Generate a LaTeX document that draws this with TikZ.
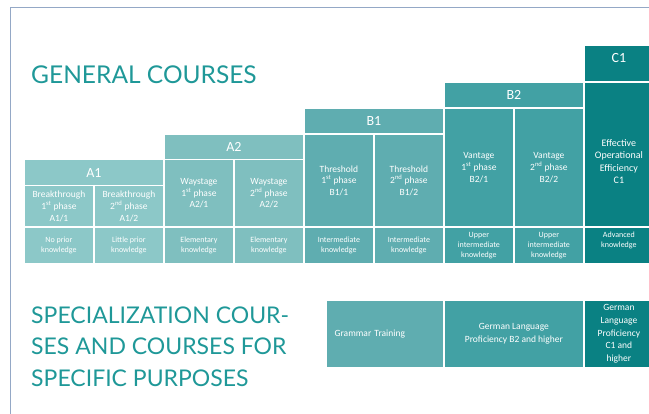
\documentclass[tikz,border=0pt]{standalone}
\usepackage{fontspec}
\setmainfont{Carlito}
\newfontfamily\titlefont{Lato}
\definecolor{colAa}{HTML}{8CC8C8}
\definecolor{colAb}{HTML}{7FBFBF}
\definecolor{colBa}{HTML}{5FADB0}
\definecolor{colBb}{HTML}{42A1A4}
\definecolor{colC}{HTML}{0A8183}
\definecolor{titleteal}{HTML}{1F9898}
\definecolor{framecol}{HTML}{94A8C6}

\begin{document}
\begin{tikzpicture}[x=1pt,y=-1pt,box/.style={draw=white, line width=1.2pt, text=white, align=center, anchor=north west, inner sep=0pt, font=\fontsize{9.5}{11.6}\selectfont},hdr/.style={box, minimum height=26, font=\fontsize{14}{16}\selectfont},knw/.style={box, minimum width=70, minimum height=36.5, font=\fontsize{8}{10.2}\selectfont},title/.style={text=titleteal, inner sep=0pt, align=left, font=\titlefont\fontsize{24.5}{31.7}\selectfont}]
\useasboundingbox (0,0) rectangle (649,414);
\draw[framecol, line width=0.9pt] (10.5,414) -- (10.5,7) -- (649,7);
\node[title, anchor=base west] (gen) at (31,83.3) {GENERAL COURSES};
% A1
\node[hdr, fill=colAa, minimum width=140] (a1) at (23.3,159) {A1};
\node[box, fill=colAa, minimum width=70, minimum height=41.5] (a11) at (23.3,185) {Breakthrough\\1\textsuperscript{st} phase\\A1/1};
\node[box, fill=colAa, minimum width=70, minimum height=41.5] (a12) at (93.3,185) {Breakthrough\\2\textsuperscript{nd} phase\\A1/2};
\node[knw, fill=colAa] (a11k) at (23.3,226.5) {No prior\\knowledge};
\node[knw, fill=colAa] (a12k) at (93.3,226.5) {Little prior\\knowledge};
% A2
\node[hdr, fill=colAb, minimum width=140, minimum height=25.5] (a2) at (163.3,133.5) {A2};
\node[box, fill=colAb, minimum width=70, minimum height=67.5] (a21) at (163.3,159) {Waystage\\1\textsuperscript{st} phase\\A2/1};
\node[box, fill=colAb, minimum width=70, minimum height=67.5] (a22) at (233.3,159) {Waystage\\2\textsuperscript{nd} phase\\A2/2};
\node[knw, fill=colAb] (a21k) at (163.3,226.5) {Elementary\\knowledge};
\node[knw, fill=colAb] (a22k) at (233.3,226.5) {Elementary\\knowledge};
% B1
\node[hdr, fill=colBa, minimum width=140] (b1) at (303.3,107.5) {B1};
\node[box, fill=colBa, minimum width=70, minimum height=93] (b11) at (303.3,133.5) {Threshold\\1\textsuperscript{st} phase\\B1/1};
\node[box, fill=colBa, minimum width=70, minimum height=93] (b12) at (373.3,133.5) {Threshold\\2\textsuperscript{nd} phase\\B1/2};
\node[knw, fill=colBa] (b11k) at (303.3,226.5) {Intermediate\\knowledge};
\node[knw, fill=colBa] (b12k) at (373.3,226.5) {Intermediate\\knowledge};
% B2
\node[hdr, fill=colBb, minimum width=140] (b2) at (443.3,81.5) {B2};
\node[box, fill=colBb, minimum width=70, minimum height=119] (b21) at (443.3,107.5) {Vantage\\1\textsuperscript{st} phase\\B2/1};
\node[box, fill=colBb, minimum width=70, minimum height=119] (b22) at (513.3,107.5) {Vantage\\2\textsuperscript{nd} phase\\B2/2};
\node[knw, fill=colBb] (b21k) at (443.3,226.5) {Upper\\intermediate\\knowledge};
\node[knw, fill=colBb] (b22k) at (513.3,226.5) {Upper\\intermediate\\knowledge};
% C1
\node[hdr, fill=colC, minimum width=70, minimum height=36.5] (c1) at (583.3,45) {};
\node[text=white, inner sep=0pt, font=\fontsize{14}{16}\selectfont] (c1t) at ([yshift=6pt]c1.center) {C1};
\node[box, fill=colC, minimum width=70, minimum height=145] (c11) at (583.3,81.5) {};
\node[text=white, inner sep=0pt, align=center, font=\fontsize{10}{12.4}\selectfont] (c11t) at ([yshift=-7pt]c11.center) {Effective\\Operational\\Efficiency\\C1};
\node[knw, fill=colC] (c11k) at (583.3,226.5) {};
\node[text=white, inner sep=0pt, align=center, font=\fontsize{8}{10.2}\selectfont] (c11kt) at ([yshift=5pt]c11k.center) {Advanced\\knowledge};
% specialization
\node[title, anchor=base west, font=\titlefont\fontsize{23}{31.7}\selectfont] (spec) at (31,386.7) {SPECIALIZATION COUR-\\SES AND COURSES FOR\\SPECIFIC PURPOSES};
\node[box, fill=colBa, text width=101.3, inner xsep=8pt, minimum height=67.5, align=left] (gram) at (326,299.5) {Grammar Training};
\node[box, fill=colBb, minimum width=140, minimum height=67.5, font=\fontsize{9.5}{13}\selectfont] (gerb) at (443.3,299.5) {German Language\\Proficiency B2 and higher};
\node[box, fill=colC, minimum width=70, minimum height=67.5, font=\fontsize{9.5}{12.7}\selectfont] (gerc) at (583.3,299.5) {German\\Language\\Proficiency\\C1 and\\higher};
\end{tikzpicture}
\end{document}
